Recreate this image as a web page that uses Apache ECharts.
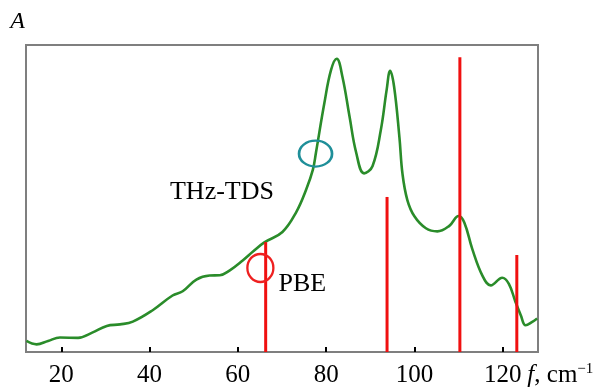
<!DOCTYPE html>
<html>
<head>
<meta charset="utf-8">
<script src="https://cdn.jsdelivr.net/npm/echarts@6/dist/echarts.min.js"></script>
<style>
html,body{margin:0;padding:0;background:#fff;}
#c{width:608px;height:388px;}
</style>
</head>
<body>
<div id="c"></div>
<script>
// THz-TDS measured absorption spectrum (frequency cm^-1, absorbance in arbitrary units)
const tdsFreq = [12.1,14.4,17,19.7,23.8,27,30.3,33.3,36.2,40.7,45.2,47.5,50.6,53.6,55.9,58.1,61.1,63.5,66.0,70.1,73.2,75.5,77.0,77.7,79.6,81.1,82.4,83.7,85.3,86.8,88.6,90.5,92.4,93.7,94.5,95.4,96.6,97.3,98.4,100.0,102.6,105.2,107.9,110.0,111.3,113.1,115.4,117.3,119.9,121.4,122.9,124.1,125.2,126.7,127.8];
const tdsAbs  = [3.6,2.5,3.6,4.7,4.6,6.3,8.5,9.0,9.9,13.6,18.4,19.8,23.6,24.9,25.0,26.5,29.8,32.8,35.7,39.1,45.5,53.0,59.4,65.0,81.1,91.8,95.5,89.6,76.7,65.0,58.2,60.5,72.4,85.3,91.6,86.4,70.0,58.0,49.5,44.2,40.3,39.3,41.1,44.3,42.2,33.6,24.9,21.7,24.2,22.2,16.3,12.0,8.7,9.8,10.9];
// PBE calculated modes
const pbeFreq = [66.3, 93.8, 110.3, 123.2];
const pbeInt  = [35.8, 50.5, 96.0, 31.6];
// tick labels
const xTicks = [20, 40, 60, 80, 100, 120];
// annotation positions (data coords)
const tdsMark = [77.6, 64.6];
const pbeMark = [65.1, 27.4];
const tdsLabelPos = [56.4, 52];
const pbeLabelPos = [74.6, 22.1];

const FONT = "'Liberation Serif','Times New Roman',serif";
const chart = echarts.init(document.getElementById('c'), null, {renderer:'canvas'});
chart.setOption({
  animation: false,
  backgroundColor: '#fff',
  grid: {left: 26, right: 70, top: 45, bottom: 34, show: true, borderColor: '#7f7f7f', borderWidth: 2, backgroundColor: 'transparent'},
  xAxis: {
    type: 'value', min: 12, max: 128,
    name: '{i|f}{n|, cm}{s|−1}',
    nameLocation: 'end', nameGap: -12,
    nameTextStyle: {
      verticalAlign: 'top', padding: [10,0,0,0],
      rich: {
        i: {fontFamily: FONT, fontSize: 25, fontStyle: 'italic', color: '#000', verticalAlign:'bottom', lineHeight: 26},
        n: {fontFamily: FONT, fontSize: 25, color: '#000', verticalAlign:'bottom', lineHeight: 26},
        s: {fontFamily: FONT, fontSize: 15, color: '#000', verticalAlign:'top', lineHeight: 26}
      }
    },
    axisLine: {show: true, lineStyle: {color: '#7f7f7f', width: 2}},
    axisTick: {show: true, inside: true, length: 5, customValues: xTicks, lineStyle: {color: '#000', width: 2}},
    axisLabel: {show: true, customValues: xTicks, fontFamily: FONT, fontSize: 25, color: '#000', margin: 11},
    splitLine: {show: false}
  },
  yAxis: {
    type: 'value', min: 0, max: 100,
    name: 'A', nameLocation: 'end', nameGap: 11,
    nameTextStyle: {fontFamily: FONT, fontSize: 24, fontStyle: 'italic', color: '#000', align: 'right', padding: [0, 1, 0, 0]},
    axisLine: {show: true, lineStyle: {color: '#7f7f7f', width: 2}},
    axisTick: {show: false}, axisLabel: {show: false}, splitLine: {show: false}
  },
  series: [
    {
      type: 'line', name: 'THz-TDS', smooth: 0.4, showSymbol: false, symbol: 'none',
      data: tdsFreq.map((f,i)=>[f, tdsAbs[i]]),
      lineStyle: {color: '#2a8c2a', width: 2.6}, z: 2
    },
    {
      type: 'bar', name: 'PBE', barWidth: 3,
      data: pbeFreq.map((f,i)=>[f, pbeInt[i]]),
      itemStyle: {color: '#f01010'}, z: 3
    },
    {
      type: 'scatter', symbol: 'circle', symbolSize: [33, 26],
      data: [tdsMark],
      itemStyle: {color: 'rgba(0,0,0,0)', borderColor: '#1f8f99', borderWidth: 2.4, opacity: 1}, z: 4
    },
    {
      type: 'scatter', symbol: 'circle', symbolSize: [26, 28],
      data: [pbeMark],
      itemStyle: {color: 'rgba(0,0,0,0)', borderColor: '#ee2020', borderWidth: 2.4, opacity: 1}, z: 4
    },
    {
      type: 'scatter', symbolSize: 0, silent: true,
      data: [
        {value: tdsLabelPos, label: {formatter: 'THz-TDS'}},
        {value: pbeLabelPos, label: {formatter: 'PBE'}}
      ],
      label: {show: true, position: 'inside', fontFamily: FONT, fontSize: 26, color: '#000', opacity: 1},
      itemStyle: {opacity: 1},
      z: 5
    }
  ]
});
</script>
</body>
</html>
